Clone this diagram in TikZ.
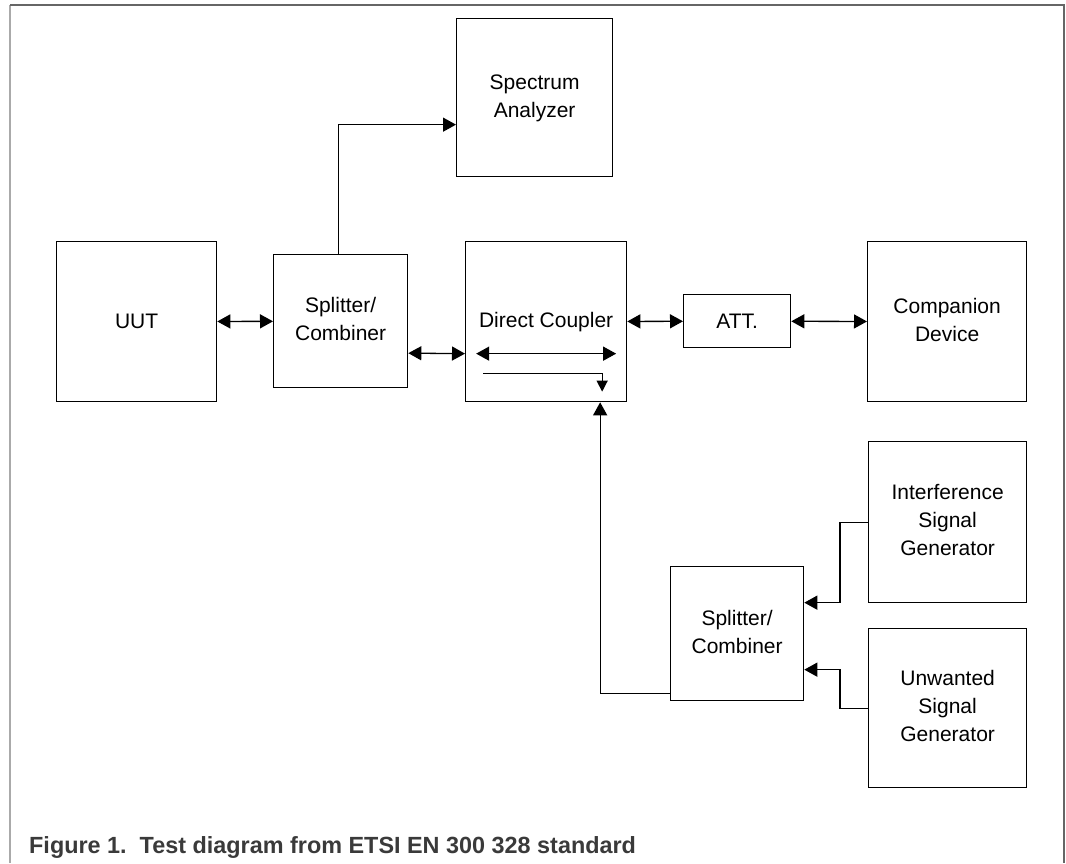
\documentclass[tikz,border=0pt]{standalone}
\usepackage{fontspec}
\setmainfont{Liberation Sans}
\usepackage{tikz}
\usetikzlibrary{arrows.meta}
\usetikzlibrary{positioning}
\definecolor{framegray}{HTML}{666666}
\definecolor{frameleft}{HTML}{AAAAAA}
\definecolor{captiongray}{HTML}{3A3A3A}

\tikzset{
  blk/.style={draw, rectangle, line width=1.3pt, inner sep=0pt,
    anchor=north west, font=\fontsize{21}{28}\selectfont},
  tri/.tip={Triangle[length=13pt,width=14pt]},
  smalltri/.tip={Triangle[length=11pt,width=11pt]},
  link/.style={line width=1.3pt}
}

\begin{document}
\begin{tikzpicture} [x=1pt, y=-1pt]
    \useasboundingbox (0,0) rectangle (1066,863);

    % frame
    \draw [frameleft, line width=1.2pt] (10,863) -- (10,5);
    \draw [framegray, line width=1.2pt] (10,5) -- (1064,5) -- (1064,863);

    \node (sa) [blk, minimum width=156pt, minimum height=158pt] at (456,18) {
      \begin{tabular}{c}
        Spectrum \\
        Analyzer
      \end{tabular}
    };
    \node (uut) [blk, minimum width=160pt, minimum height=160pt] at (56,241) {UUT};
    \node (spla) [blk, minimum width=134pt, minimum height=133pt] at (273,254) {
      \begin{tabular}{c}
        Splitter/ \\
        Combiner
      \end{tabular}
    };
    \node (dc) [blk, minimum width=161pt, minimum height=160pt] at (465,241) {Direct Coupler};
    \node (att) [blk, minimum width=107pt, minimum height=53pt] at (683,294) {ATT.};
    \node (comp) [blk, minimum width=159pt, minimum height=160pt] at (867,241) {
      \begin{tabular}{c}
        Companion \\
        Device
      \end{tabular}
    };
    \node (intf) [blk, minimum width=158pt, minimum height=161pt] at (868,441) {
      \begin{tabular}{c}
        Interference \\
        Signal \\
        Generator
      \end{tabular}
    };
    \node (splb) [blk, minimum width=133pt, minimum height=134pt] at (670,566) {
      \begin{tabular}{c}
        Splitter/ \\
        Combiner
      \end{tabular}
    };
    \node (unw) [blk, minimum width=158pt, minimum height=159pt] at (868,628) {
      \begin{tabular}{c}
        Unwanted \\
        Signal \\
        Generator
      \end{tabular}
    };

    \node (cap) [anchor=base west, inner sep=0pt, text=captiongray,
      font=\fontsize{23.4}{28}\selectfont\bfseries] at (29,853)
      {Figure 1.\ \ Test diagram from ETSI EN 300 328 standard};

    % connections
    \draw [link, tri-tri] (uut) -- (spla);
    \draw [link, tri-tri] ([yshift=-32pt]spla.east) -- ([yshift=-32pt]dc.west);
    \draw [link, tri-tri] (dc) -- (att);
    \draw [link, tri-tri] (att) -- (comp);
    \draw [link, -tri] ([xshift=-2pt]spla.north) |- ([yshift=-27pt]sa.west);
    \draw [link, -tri] ([yshift=-60pt]splb.west) -| ([xshift=54pt]dc.south);
    \draw [link, -tri] (intf.west) -- ++(-28,0) |- ([yshift=31pt]splb.east);
    \draw [link, -tri] (unw.west) -- ++(-28,0) |- ([yshift=-36pt]splb.east);

    % inside the coupler
    \draw [link, tri-tri] ([xshift=-70pt,yshift=-32pt]dc.center) -- ([xshift=70pt,yshift=-32pt]dc.center);
    \draw [link, -smalltri] ([xshift=-63pt,yshift=-52pt]dc.center) -- ([xshift=56pt,yshift=-52pt]dc.center)
      -- ([xshift=56pt,yshift=-70pt]dc.center);
  \end{tikzpicture}
\end{document}
